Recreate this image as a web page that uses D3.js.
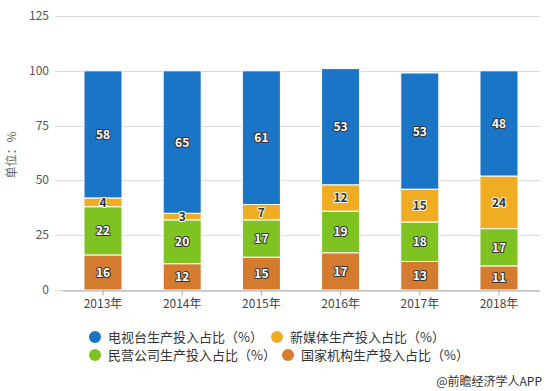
<!DOCTYPE html>
<html>
<head>
<meta charset="utf-8">
<script src="https://cdn.jsdelivr.net/npm/d3@7"></script>
<style>
  body { margin: 0; background: #fff; }
  svg { font-family: "Microsoft YaHei", "Noto Sans CJK SC", sans-serif; }
</style>
</head>
<body>
<div id="chart"></div>
<script>
// data
var years = ["2013年", "2014年", "2015年", "2016年", "2017年", "2018年"];
var seriesNames = ["国家机构生产投入占比（%）", "民营公司生产投入占比（%）", "新媒体生产投入占比（%）", "电视台生产投入占比（%）"];
var stateValues = [16, 12, 15, 17, 13, 11];
var privateValues = [22, 20, 17, 19, 18, 17];
var newMediaValues = [4, 3, 7, 12, 15, 24];
var tvValues = [58, 65, 61, 53, 53, 48];
var yTicks = [0, 25, 50, 75, 100, 125];

var colors = ["#D47B30", "#7EC321", "#F0AC22", "#1A75C7"];

var w = 549, h = 391;

var svg = d3.select("#chart").append("svg")
    .attr("width", w)
    .attr("height", h);

var table = years.map(function (y, i) {
    return { year: y, s0: stateValues[i], s1: privateValues[i], s2: newMediaValues[i], s3: tvValues[i] };
});
var stack = d3.stack().keys(["s0", "s1", "s2", "s3"]);
var layers = stack(table);

var xScale = d3.scaleBand()
    .domain(years)
    .range([63.4, 538.6])
    .paddingInner(0.52)
    .paddingOuter(0.26);

var yScale = d3.scaleLinear()
    .domain([0, 125])
    .range([290, 16]);

/* GRID */
svg.append("g")
    .selectAll("line")
    .data(yTicks)
    .enter()
    .append("line")
    .attr("x1", 55)
    .attr("x2", 540)
    .attr("y1", d => Math.round(yScale(d)) + 0.5)
    .attr("y2", d => Math.round(yScale(d)) + 0.5)
    .attr("stroke", "#dcdcdc")
    .attr("stroke-width", 1);

/* Y TICK LABELS */
svg.append("g")
    .selectAll("text")
    .data(yTicks)
    .enter()
    .append("text")
    .attr("x", 49)
    .attr("y", d => yScale(d) + 4)
    .attr("text-anchor", "end")
    .style("font-size", "12px")
    .style("fill", "#555")
    .text(d => d);

/* BARS */
var groups = svg.selectAll("g.layer")
    .data(layers)
    .enter()
    .append("g")
    .attr("class", "layer")
    .attr("fill", (d, i) => colors[i]);

groups.selectAll("rect")
    .data(d => d)
    .enter()
    .append("rect")
    .attr("x", d => xScale(d.data.year))
    .attr("y", d => yScale(d[1]))
    .attr("width", xScale.bandwidth())
    .attr("height", d => yScale(d[0]) - yScale(d[1]))
    .attr("stroke", "#fff")
    .attr("stroke-width", 1);

/* VALUE LABELS */
layers.forEach(function (layer, li) {
    var dark = li === 2;
    var lab = svg.append("g").selectAll("text")
        .data(layer)
        .enter();
    // halo
    lab.append("text")
        .attr("x", d => xScale(d.data.year) + xScale.bandwidth() / 2)
        .attr("y", d => (yScale(d[0]) + yScale(d[1])) / 2 + 4.5)
        .attr("text-anchor", "middle")
        .style("font-size", "12px")
        .style("font-weight", "bold")
        .style("fill", "none")
        .style("stroke", dark ? "#fff" : "#333")
        .style("stroke-width", 2)
        .style("stroke-linejoin", "round")
        .text(d => d[1] - d[0]);
    lab.append("text")
        .attr("x", d => xScale(d.data.year) + xScale.bandwidth() / 2)
        .attr("y", d => (yScale(d[0]) + yScale(d[1])) / 2 + 4.5)
        .attr("text-anchor", "middle")
        .style("font-size", "12px")
        .style("font-weight", "bold")
        .style("fill", dark ? "#333" : "#fff")
        .text(d => d[1] - d[0]);
});

/* X AXIS */
var xAxis = d3.axisBottom(xScale).tickSize(5).tickPadding(4);
var gx = svg.append("g")
    .attr("transform", "translate(0," + 290.5 + ")")
    .call(xAxis);
gx.select(".domain").attr("d", "M63,0.5H540").attr("stroke", "#a8a8a8");
gx.selectAll(".tick line").attr("stroke", "#a8a8a8");
gx.selectAll(".tick text")
    .style("font-size", "12px")
    .style("fill", "#444")
    .style("font-family", "\"Microsoft YaHei\", \"Noto Sans CJK SC\", sans-serif");

/* Y TITLE */
svg.append("text")
    .attr("transform", "translate(16,155) rotate(-90)")
    .attr("text-anchor", "middle")
    .style("font-size", "12px")
    .style("fill", "#666")
    .text("单位：%");

/* LEGEND */
var legend = [
    { name: seriesNames[3], color: colors[3], cx: 95, tx: 108, y: 337 },
    { name: seriesNames[2], color: colors[2], cx: 277, tx: 290, y: 337 },
    { name: seriesNames[1], color: colors[1], cx: 95, tx: 108, y: 355 },
    { name: seriesNames[0], color: colors[0], cx: 288, tx: 301, y: 355 }
];
var lg = svg.append("g").selectAll("g")
    .data(legend)
    .enter()
    .append("g");
lg.append("circle")
    .attr("cx", d => d.cx)
    .attr("cy", d => d.y)
    .attr("r", 6)
    .attr("fill", d => d.color);
lg.append("text")
    .attr("x", d => d.tx)
    .attr("y", d => d.y + 5)
    .style("font-size", "13px")
    .style("fill", "#333")
    .text(d => d.name);

/* SOURCE */
svg.append("text")
    .attr("x", 542)
    .attr("y", 386)
    .attr("text-anchor", "end")
    .style("font-size", "12px")
    .style("fill", "#333")
    .text("@前瞻经济学人APP");
</script>
</body>
</html>
